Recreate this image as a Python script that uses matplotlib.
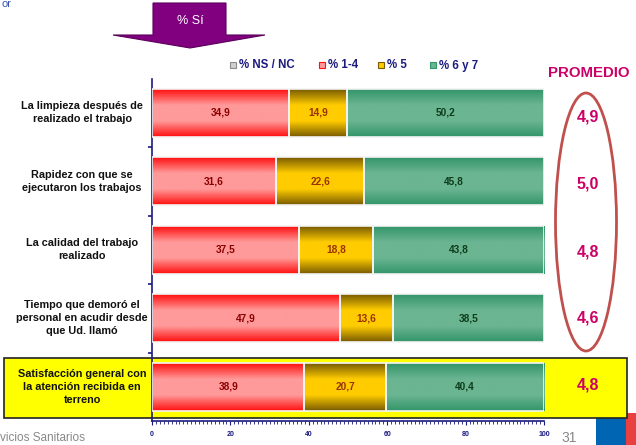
#!/usr/bin/env python3

import numpy as np
import matplotlib.pyplot as plt
from matplotlib.patches import Rectangle, Ellipse, Polygon
from matplotlib.colors import LinearSegmentedColormap
from matplotlib.ticker import MultipleLocator

plt.rcParams['font.family'] = ['Liberation Sans', 'DejaVu Sans']

# data
categories = ["La limpieza después de\nrealizado el trabajo",
              "Rapidez con que se\nejecutaron los trabajos",
              "La calidad del trabajo\nrealizado",
              "Tiempo que demoró el\npersonal en acudir desde\nque Ud. llamó",
              "Satisfacción general con\nla atención recibida en\nterreno"]
ns_nc = [0.0, 0.0, 0.0, 0.0, 0.0]
p_1_4 = [34.9, 31.6, 37.5, 47.9, 38.9]
p_5 = [14.9, 22.6, 18.8, 13.6, 20.7]
p_6_7 = [50.2, 45.8, 43.8, 38.5, 40.4]
promedio = [4.9, 5.0, 4.8, 4.6, 4.8]
series_names = ["% NS / NC", "% 1-4", "% 5", "% 6 y 7"]
x_ticks = [0, 20, 40, 60, 80, 100]

navy = "#1a1a80"
# (edge colour, centre colour, label colour)
styles = [("#8c8c8c", "#d0d0d0", "#333333"),
          ("#ff1010", "#ff9a9a", "#8b0000"),
          ("#7a5c00", "#ffcc00", "#993300"),
          ("#33956a", "#6bb592", "#0f3d1a")]


def gradient_bar(ax, left, width, y, height, c_edge, c_mid):
    cmap = LinearSegmentedColormap.from_list("g", [c_edge, c_mid, c_mid, c_edge])
    grad = np.linspace(0, 1, 64).reshape(-1, 1)
    ax.imshow(grad, cmap=cmap, aspect="auto", interpolation="bicubic",
              extent=[left, left + width, y + height / 2, y - height / 2], zorder=2)
    ax.add_patch(Rectangle((left, y - height / 2), width, height, fill=False,
                           ec="#f4f4f4", lw=1.2, zorder=3))


fig = plt.figure(figsize=(6.36, 4.45), dpi=100)

# overlay in pixel coordinates for the decorations
ov = fig.add_axes([0, 0, 1, 1], zorder=0)
ov.set_xlim(0, 636)
ov.set_ylim(445, 0)
ov.axis("off")

ax = fig.add_axes([152 / 636, 1 - 421 / 445, 392 / 636, 342.5 / 445], zorder=1)
ax.patch.set_visible(False)

# highlight box of the last row
ov.add_patch(Rectangle((4, 358), 623, 60, fc="#ffff00", ec="#222222", lw=1.2, zorder=1))
# corner logo blocks
ov.add_patch(Rectangle((596, 413), 30, 32, fc="#0066b3", ec="none", zorder=0))
ov.add_patch(Rectangle((626, 413), 10, 32, fc="#e84040", ec="none", zorder=0))

# arrow "% Sí"
ov.add_patch(Polygon([(153, 3), (226, 3), (226, 35), (265, 35), (190, 48),
                      (113, 35), (153, 35)], closed=True, fc="#800080", ec="#5a005a", lw=0.8))
ov.text(190, 21, "% Sí", color="white", fontsize=9, ha="center", va="center")
ov.text(1, 4, "or", color="#3355aa", fontsize=8, ha="left", va="center")

# bars
h = 0.7
for i in range(len(categories)):
    left = 0.0
    for k, vals in enumerate([ns_nc, p_1_4, p_5, p_6_7]):
        v = vals[i]
        if v > 0:
            gradient_bar(ax, left, v, i, h, styles[k][0], styles[k][1])
            ax.text(left + v / 2, i, "{:.1f}".format(v).replace(".", ","),
                    ha="center", va="center", fontsize=7.3, fontweight="bold",
                    color=styles[k][2], zorder=4)
        left += v

ax.set_xlim(0, 100)
ax.set_ylim(len(categories) - 0.5, -0.5)

# axes styling
for s in ["top", "right"]:
    ax.spines[s].set_visible(False)
for s in ["left", "bottom"]:
    ax.spines[s].set_color(navy)
    ax.spines[s].set_linewidth(1.2)
ax.set_yticks([i + 0.5 for i in range(len(categories) - 1)])
ax.set_yticklabels([])
ax.tick_params(axis="y", direction="out", length=3, width=1.2, color=navy)
ax.set_xticks(x_ticks)
ax.set_xticklabels(x_ticks, fontsize=5, fontweight="bold", color=navy)
ax.xaxis.set_minor_locator(MultipleLocator(1))
ax.tick_params(axis="x", which="major", direction="out", length=3, color=navy, pad=4)
ax.tick_params(axis="x", which="minor", direction="out", length=2, color=navy, width=0.6)

# category labels
for i, lab in enumerate(categories):
    ax.text(-0.178, i, lab, transform=ax.get_yaxis_transform(), ha="center", va="center",
            fontsize=7.8, fontweight="bold", color="#111111", linespacing=1.4)

# legend
leg_x = [230, 319, 378, 430]
for k, name in enumerate(series_names):
    ov.add_patch(Rectangle((leg_x[k], 62), 6, 6, fc=styles[k][1], ec=styles[k][0], lw=0.8))
    ov.text(leg_x[k] + 9, 65.5, name, color=navy, fontsize=8.3, fontweight="bold", va="center")

# promedio
ov.text(589, 73, "PROMEDIO", color="#cc0066", fontsize=10.8, fontweight="bold", ha="center", va="center")
ov.add_patch(Ellipse((586, 222), 61, 258, fill=False, ec="#c0504d", lw=2))
prom_y = [117, 184, 252, 318, 385]
for v, yy in zip(promedio, prom_y):
    ov.text(588, yy, "{:.1f}".format(v).replace(".", ","), color="#cc0066", fontsize=11.5,
            fontweight="bold", ha="center", va="center", zorder=3)

# footer
ov.text(0, 438, "vicios Sanitarios", color="#888888", fontsize=8.5, va="center", ha="left")
ov.text(569, 438, "31", color="#888888", fontsize=10, va="center", ha="center")

plt.savefig("out.png", dpi=100)
